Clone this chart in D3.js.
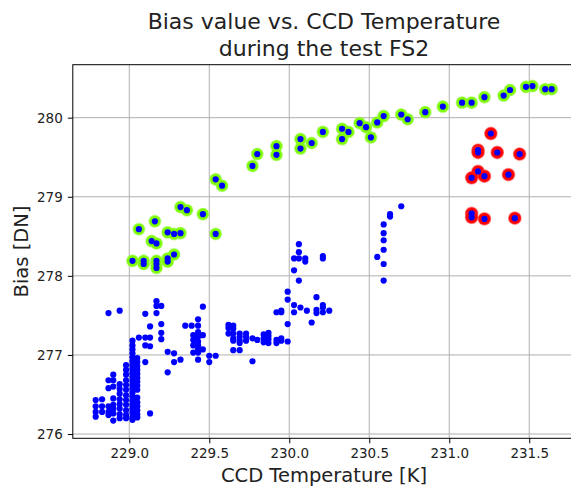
<!DOCTYPE html>
<html>
<head>
<meta charset="utf-8">
<script src="https://cdn.jsdelivr.net/npm/d3@7"></script>
<style>
  body { margin: 0; background: #fff; }
  svg { display: block; font-family: "DejaVu Sans", sans-serif; }
</style>
</head>
<body>
<div id="chart"></div>
<script>
// highlighted runs: green ring (upper branch), red ring (right group)
var greenT = [229.02,229.09,229.09,229.17,229.17,229.17,229.24,229.24,229.28,229.06,229.14,229.17,229.16,229.24,229.28,229.32,
  229.32,229.36,229.46,229.54,229.54,229.58,229.77,229.80,229.92,229.92,230.07,230.07,230.14,230.21,230.33,230.37,230.33,
  230.44,230.48,230.51,230.55,230.59,230.70,230.74,230.85,230.96,231.08,231.14,231.22,231.34,231.38,231.48,231.52,231.60,231.64];
var greenB = [278.19,278.19,278.15,278.19,278.15,278.10,278.22,278.18,278.27,278.59,278.44,278.41,278.69,278.55,278.53,278.54,
  278.87,278.83,278.78,278.53,279.22,279.14,279.39,279.54,279.64,279.53,279.73,279.61,279.68,279.82,279.86,279.82,279.73,
  279.93,279.88,279.75,279.94,280.02,280.04,279.98,280.07,280.14,280.19,280.19,280.26,280.28,280.35,280.39,280.40,280.36,280.36];

var redT = [231.26,231.18,231.18,231.30,231.44,231.18,231.14,231.22,231.37,231.14,231.14,231.22,231.41];
var redB = [279.80,279.59,279.56,279.56,279.54,279.32,279.24,279.26,279.28,278.79,278.74,278.72,278.73];

// all the other samples (blue)
var blueT = [
  230.70,230.63,230.63,230.59,230.59,230.59,230.59,230.55,230.59,230.59,
  230.06,230.06,230.03,230.06,230.10,230.10,230.03,230.06,230.21,230.21,
  229.99,229.99,230.17,230.03,230.03,230.07,230.11,229.92,229.95,229.95,230.17,230.17,230.21,230.21,230.21,230.25,229.99,230.14,
  229.62,229.62,229.62,229.65,229.65,229.65,229.65,229.65,229.69,229.69,229.69,229.69,229.73,229.73,229.73,229.77,229.80,
  229.84,229.84,229.84,229.87,229.87,229.87,229.87,229.92,229.92,229.95,229.95,229.99,229.65,229.69,229.77,
  229.35,229.39,229.43,229.43,229.46,229.40,229.40,229.40,229.40,229.43,229.43,229.43,229.43,229.43,229.43,229.43,229.46,229.46,229.50,229.54,229.50,
  229.24,229.28,229.32,229.28,229.24,
  228.87,228.94,229.17,229.17,229.20,229.17,229.10,229.13,229.20,229.20,229.20,229.06,229.10,229.13,229.10,229.13,229.10,229.13,
  229.02,229.02,229.02,229.02,229.02,229.02,229.02,229.02,229.02,229.02,229.02,229.02,229.02,229.02,229.02,229.02,229.02,229.02,229.02,229.02,229.02,
  229.05,229.05,229.05,229.05,229.05,229.05,229.05,229.05,229.05,229.05,229.05,229.05,229.05,229.05,229.05,
  228.98,228.98,228.98,228.98,228.98,228.98,228.98,228.98,228.98,228.98,228.98,228.98,
  228.94,228.94,228.94,228.94,228.94,228.94,228.94,228.94,
  228.90,228.90,228.90,228.90,228.90,228.90,228.90,228.90,
  228.87,228.87,228.87,228.87,228.87,
  228.83,228.83,228.83,
  228.79,228.79,228.79,228.79];
var blueB = [
  278.88,278.78,278.75,278.65,278.54,278.45,278.33,278.24,278.15,277.94,
  278.40,278.30,278.22,278.22,278.22,278.18,278.07,277.94,278.25,278.22,
  277.80,277.70,277.73,277.63,277.54,277.60,277.56,277.54,277.56,277.54,277.57,277.53,277.63,277.60,277.54,277.56,277.39,277.41,
  277.38,277.34,277.27,277.37,277.33,277.27,277.21,277.18,277.27,277.23,277.18,277.15,277.27,277.23,277.18,277.21,277.19,
  277.26,277.21,277.16,277.28,277.24,277.20,277.15,277.19,277.15,277.21,277.18,277.17,277.06,277.06,276.92,
  277.37,277.37,277.45,277.37,277.61,277.25,277.19,277.12,277.03,277.29,277.23,277.17,277.12,277.07,277.03,276.94,277.25,277.07,276.99,276.99,276.91,
  277.04,277.02,276.94,276.91,276.78,
  277.53,277.56,277.68,277.62,277.62,277.53,277.52,277.36,277.39,277.28,277.20,277.22,277.22,277.22,277.12,277.11,276.91,276.26,
  277.18,277.12,277.07,277.02,276.97,276.92,276.87,276.82,276.77,276.72,276.67,276.62,276.57,276.52,276.47,276.42,276.37,276.32,276.27,276.21,276.18,
  276.96,276.91,276.86,276.81,276.76,276.71,276.66,276.61,276.56,276.46,276.40,276.35,276.30,276.25,276.21,
  276.87,276.81,276.75,276.68,276.62,276.56,276.49,276.43,276.37,276.30,276.24,276.20,
  276.63,276.57,276.51,276.44,276.38,276.32,276.25,276.20,
  276.75,276.68,276.60,276.45,276.37,276.32,276.26,276.17,
  276.68,276.58,276.35,276.28,276.24,
  276.44,276.35,276.28,
  276.43,276.35,276.28,276.22];

var xTicks = [229.0, 229.5, 230.0, 230.5, 231.0, 231.5];
var yTicks = [276, 277, 278, 279, 280];

var width = 571, height = 486;
var pLeft = 72.8, pRight = 575, pTop = 64.7, pBottom = 438.3;

var x = d3.scaleLinear().domain([228.647, 231.786]).range([pLeft, pRight]);
var y = d3.scaleLinear().domain([275.946, 280.67]).range([pBottom, pTop]);

var svg = d3.select("#chart").append("svg")
    .attr("width", width)
    .attr("height", height);

// grid
svg.append("g").selectAll("line").data(xTicks).enter().append("line")
    .attr("x1", function(d) { return x(d); }).attr("x2", function(d) { return x(d); })
    .attr("y1", pTop).attr("y2", pBottom)
    .attr("stroke", "#b0b0b0").attr("stroke-width", 1);
svg.append("g").selectAll("line").data(yTicks).enter().append("line")
    .attr("x1", pLeft).attr("x2", pRight)
    .attr("y1", function(d) { return y(d); }).attr("y2", function(d) { return y(d); })
    .attr("stroke", "#b0b0b0").attr("stroke-width", 1);

function pairs(a, b) { return a.map(function(d, i) { return [d, b[i]]; }); }
var green = pairs(greenT, greenB), red = pairs(redT, redB), blue = pairs(blueT, blueB);

svg.append("g").selectAll("circle").data(green).enter().append("circle")
    .attr("cx", function(d) { return x(d[0]); })
    .attr("cy", function(d) { return y(d[1]); })
    .attr("r", 5.8)
    .attr("fill", "#7cfc00")
    .attr("stroke", "rgba(150,250,60,0.55)").attr("stroke-width", 1.4);

svg.append("g").selectAll("circle").data(red).enter().append("circle")
    .attr("cx", function(d) { return x(d[0]); })
    .attr("cy", function(d) { return y(d[1]); })
    .attr("r", 6.2)
    .attr("fill", "#ff0000")
    .attr("stroke", "rgba(255,60,60,0.5)").attr("stroke-width", 1.4);

svg.append("g").selectAll("circle").data(blue.concat(green, red)).enter().append("circle")
    .attr("cx", function(d) { return x(d[0]); })
    .attr("cy", function(d) { return y(d[1]); })
    .attr("r", 3.1)
    .attr("fill", "#0000ff");

// axes
var xAxis = svg.append("g")
    .attr("transform", "translate(0," + pBottom + ")")
    .call(d3.axisBottom(x).tickValues(xTicks).tickFormat(d3.format(".1f")).tickSizeOuter(0).tickSize(5).tickPadding(5));
var yAxis = svg.append("g")
    .attr("transform", "translate(" + pLeft + ",0)")
    .call(d3.axisLeft(y).tickValues(yTicks).tickFormat(d3.format("d")).tickSizeOuter(0).tickSize(5).tickPadding(5));
[xAxis, yAxis].forEach(function(g) {
  g.select(".domain").remove();
  g.selectAll("text").attr("font-size", "13.5px").attr("fill", "#222").attr("font-family", "DejaVu Sans");
  g.selectAll("line").attr("stroke", "#000");
});

// frame
svg.append("rect")
    .attr("x", pLeft).attr("y", pTop)
    .attr("width", pRight - pLeft).attr("height", pBottom - pTop)
    .attr("fill", "none").attr("stroke", "#000").attr("stroke-width", 1);

// titles
svg.append("text").attr("x", 324).attr("y", 29).attr("text-anchor", "middle")
    .attr("font-size", "22px").attr("fill", "#222").text("Bias value vs. CCD Temperature");
svg.append("text").attr("x", 324).attr("y", 56).attr("text-anchor", "middle")
    .attr("font-size", "22px").attr("fill", "#222").text("during the test FS2");

svg.append("text").attr("x", 324).attr("y", 482).attr("text-anchor", "middle")
    .attr("font-size", "19.5px").attr("fill", "#222").text("CCD Temperature [K]");
svg.append("text").attr("transform", "translate(28," + ((pTop + pBottom) / 2) + ") rotate(-90)")
    .attr("text-anchor", "middle")
    .attr("font-size", "19.5px").attr("fill", "#222").text("Bias [DN]");
</script>
</body>
</html>
